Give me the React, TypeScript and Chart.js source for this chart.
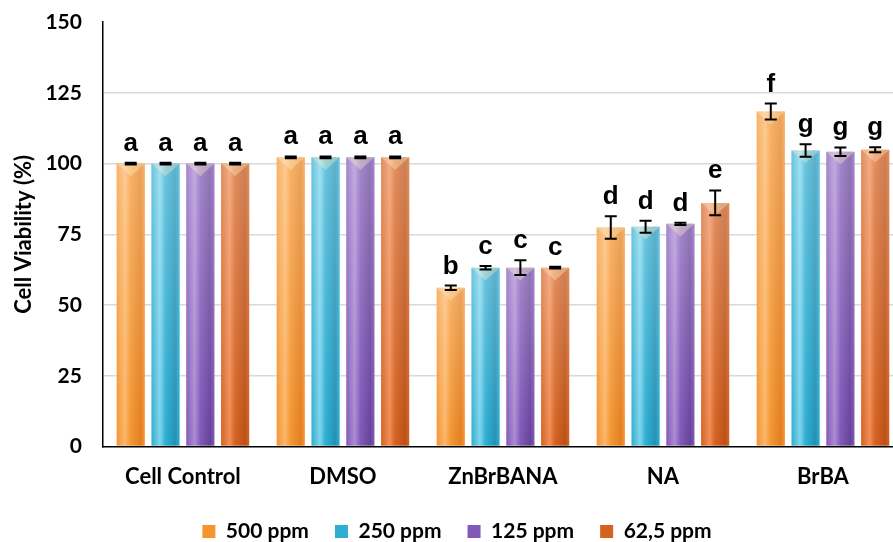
import React, { useEffect, useRef } from "react";
import { Chart, registerables } from "chart.js";
Chart.register(...registerables);

const categories = ["Cell Control", "DMSO", "ZnBrBANA", "NA", "BrBA"];
const seriesLabels = ["500 ppm", "250 ppm", "125 ppm", "62,5 ppm"];
const v500 = [100, 102.2, 56.1, 77.4, 118.4];
const v250 = [100, 102.2, 63.2, 77.7, 104.6];
const v125 = [100, 102.2, 63.2, 78.7, 104.2];
const v625 = [100, 102.2, 63.2, 86.1, 104.9];
const e500 = [0.3, 0.3, 0.8, 4.0, 2.8];
const e250 = [0.3, 0.3, 0.6, 2.1, 2.2];
const e125 = [0.3, 0.3, 2.6, 0.4, 1.5];
const e625 = [0.3, 0.3, 0.3, 4.4, 0.9];
const l500 = ["a", "a", "b", "d", "f"];
const l250 = ["a", "a", "c", "d", "g"];
const l125 = ["a", "a", "c", "d", "g"];
const l625 = ["a", "a", "c", "e", "g"];
const yMin = 0;
const yMax = 150;
const yStep = 25;

const values = [v500, v250, v125, v625];
const errors = [e500, e250, e125, e625];
const letters = [l500, l250, l125, l625];
// [mid, light, dark]
const palette = [
  ["#F5952E", "#FBB66A", "#E27F22"],
  ["#2FAED2", "#80D4EC", "#2092B6"],
  ["#8258B8", "#AA8BD2", "#66429A"],
  ["#D6621F", "#EE8C58", "#BB5016"],
];

const LEGEND_SHRINK = 8;
const LEGEND_LIFT = 4;
const LEGEND_SHIFT_X = 0;

const legendTighten = {
  id: "legendTighten",
  beforeLayout(chart: any) {
    const lg = chart.legend;
    if (lg && !lg.__wrapped) {
      const orig = lg.fit;
      lg.fit = function () {
        orig.call(this);
        this.height -= LEGEND_SHRINK;
      };
      lg.__wrapped = true;
    }
  },
  afterLayout(chart: any) {
    const lg = chart.legend;
    if (lg) {
      lg.top -= LEGEND_LIFT;
      lg.height += LEGEND_SHRINK;
      lg.bottom = lg.top + lg.height;
      lg.left += LEGEND_SHIFT_X;
      lg.right += LEGEND_SHIFT_X;
    }
  },
};

const barStyle = {
  id: "barStyle",
  beforeDatasetsDraw(chart: any) {
    const ctx = chart.ctx;
    chart.data.datasets.forEach((ds: any, di: number) => {
      const meta = chart.getDatasetMeta(di);
      const [mid, light, dark] = palette[di];
      meta.data.forEach((el: any) => {
        const l = el.x - el.width / 2;
        const r = el.x + el.width / 2;
        const g = ctx.createLinearGradient(l, 0, r, 0);
        g.addColorStop(0, mid);
        g.addColorStop(0.3, light);
        g.addColorStop(0.5, mid);
        g.addColorStop(0.85, dark);
        g.addColorStop(1, mid);
        el.options = Object.assign({}, el.options, { backgroundColor: g });
      });
    });
  },
  afterDatasetsDraw(chart: any) {
    const ctx = chart.ctx;
    const ys = chart.scales.y;
    ctx.save();
    chart.data.datasets.forEach((ds: any, di: number) => {
      const meta = chart.getDatasetMeta(di);
      meta.data.forEach((el: any) => {
        const l = el.x - el.width / 2;
        const r = el.x + el.width / 2;
        // vertical sheen, lighter toward the top
        const vg = ctx.createLinearGradient(0, el.y, 0, el.base);
        vg.addColorStop(0, "rgba(255,255,255,0.28)");
        vg.addColorStop(1, "rgba(255,255,255,0)");
        ctx.fillStyle = vg;
        ctx.fillRect(l, el.y, el.width, el.base - el.y);
        // top highlight triangle
        ctx.beginPath();
        ctx.moveTo(l, el.y);
        ctx.lineTo(r, el.y);
        ctx.lineTo(el.x, el.y + el.width * 0.45);
        ctx.closePath();
        ctx.fillStyle = "rgba(255,240,200,0.35)";
        ctx.fill();
      });
    });
    chart.data.datasets.forEach((ds: any, di: number) => {
      const meta = chart.getDatasetMeta(di);
      meta.data.forEach((el: any, i: number) => {
        // error bar
        const v = values[di][i];
        const e = errors[di][i];
        const yt = ys.getPixelForValue(v + e);
        const yb = ys.getPixelForValue(v - e);
        ctx.strokeStyle = "#000";
        ctx.lineWidth = 2;
        ctx.beginPath();
        ctx.moveTo(el.x, yt);
        ctx.lineTo(el.x, yb);
        ctx.moveTo(el.x - 6, yt);
        ctx.lineTo(el.x + 6, yt);
        ctx.moveTo(el.x - 6, yb);
        ctx.lineTo(el.x + 6, yb);
        ctx.stroke();
        // letter
        ctx.fillStyle = "#000";
        ctx.font = "bold 26px 'Liberation Sans', Arial, sans-serif";
        ctx.textAlign = "center";
        ctx.textBaseline = "alphabetic";
        ctx.fillText(letters[di][i], el.x, yt - 12);
      });
    });
    ctx.restore();
  },
};

export default function App() {
  const ref = useRef<HTMLCanvasElement>(null);
  useEffect(() => {
    if (!ref.current) return;
    const chart = new Chart(ref.current, {
      type: "bar",
      data: {
        labels: categories,
        datasets: values.map((vals, i) => ({
          label: seriesLabels[i],
          data: vals,
          backgroundColor: palette[i][0],
          borderWidth: 0,
          categoryPercentage: 0.87,
          barPercentage: 0.81,
        })),
      },
      options: {
        responsive: false,
        animation: false,
        events: [],
        layout: { padding: { left: 11, right: 9, top: 0, bottom: -6 } },
        plugins: {
          tooltip: { enabled: false },
          legend: {
            position: "bottom",
            labels: {
              boxWidth: 13,
              boxHeight: 13,
              padding: 26,
              color: "#000",
              font: { family: "Lato", weight: "bold", size: 21 },
            },
          },
        },
        scales: {
          x: {
            grid: { display: false },
            border: { color: "#000", width: 1.5 },
            ticks: {
              color: "#000",
              padding: 9,
              font: { family: "Lato", weight: "bold", size: 22 },
            },
          },
          y: {
            min: yMin,
            max: yMax,
            ticks: {
              stepSize: yStep,
              color: "#000",
              padding: 21,
              font: { family: "Lato", weight: "bold", size: 21, lineHeight: 0.1 },
            },
            grid: {
              drawTicks: false,
              color: (c: any) =>
                c.tick && (c.tick.value === yMax || c.tick.value === yMin)
                  ? "rgba(0,0,0,0)"
                  : "#D9D9D9",
              lineWidth: 1.5,
            },
            border: { color: "#000", width: 1.5 },
            title: {
              display: true,
              text: "Cell Viability (%)",
              color: "#000",
              padding: { top: 0, bottom: -13 },
              font: { family: "Lato", weight: "bold", size: 22 },
            },
          },
        },
      },
      plugins: [legendTighten, barStyle],
    });
    return () => chart.destroy();
  }, []);
  return (
    <div
      style={{
        position: "absolute",
        left: 0,
        top: 0,
        width: 893,
        height: 542,
        overflow: "hidden",
        background: "#fff",
      }}
    >
      <canvas ref={ref} width={912} height={542} style={{ display: "block" }} />
    </div>
  );
}
